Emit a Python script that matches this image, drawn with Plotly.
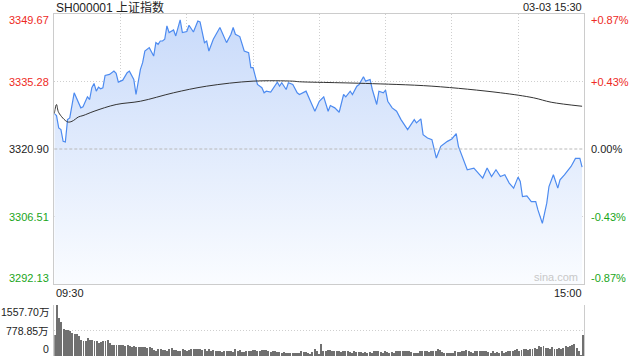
import plotly.graph_objects as go

# ---------------- data ----------------
title_text = "SH000001 上证指数"
stamp_text = "03-03 15:30"
prev_close = 3320.90
price_ticks = [3349.67, 3335.28, 3320.90, 3306.51, 3292.13]
pct_labels = ["+0.87%", "+0.43%", "0.00%", "-0.43%", "-0.87%"]
time_labels = ["09:30", "15:00"]
vol_ticks = [1557.70, 778.85, 0]
vol_labels = ["1557.70万", "778.85万", "0"]

minute_idx = [0, 1, 2, 3, 4, 5, 6, 7, 9, 10, 12, 13, 15, 16, 17, 18, 19, 20, 21, 22,
              23, 25, 27, 28, 29, 31, 33, 34, 36, 37, 39, 40, 41, 43, 45, 46, 47, 48, 49, 50,
              51, 52, 54, 55, 57, 58, 60, 61, 63, 65, 66, 68, 69, 70, 72, 75, 76, 77, 78, 80,
              81, 82, 84, 86, 88, 89, 90, 92, 94, 95, 96, 98, 99, 101, 102, 103, 105, 106, 108, 110,
              111, 114, 116, 118, 120, 122, 124, 125, 127, 129, 131, 132, 134, 135, 137, 138, 140, 141, 143, 144,
              146, 147, 149, 150, 151, 153, 155, 157, 160, 163, 164, 166, 167, 169, 171, 173, 175, 178, 180, 182,
              183, 185, 187, 190, 192, 194, 196, 198, 200, 202, 204, 206, 208, 210, 211, 212, 214, 216, 218, 219,
              221, 223, 224, 226, 228, 229, 231, 234, 236, 238, 239]
price = [3328.45, 3328.02, 3325.39, 3325.03, 3322.53, 3322.40, 3327.17, 3327.53, 3332.88, 3331.81,
         3329.67, 3329.88, 3332.02, 3331.45, 3333.95, 3334.87, 3333.22, 3334.08, 3333.73, 3333.95,
         3336.58, 3336.79, 3337.50, 3337.01, 3335.15, 3335.57, 3337.16, 3337.50, 3335.72, 3332.51,
         3337.86, 3339.30, 3341.78, 3342.50, 3340.71, 3343.57, 3343.21, 3343.92, 3343.92, 3344.28,
         3347.12, 3345.71, 3346.27, 3344.99, 3348.41, 3345.71, 3345.93, 3347.27, 3345.84, 3348.19,
         3347.98, 3343.57, 3343.92, 3341.78, 3344.28, 3346.78, 3345.71, 3344.99, 3343.57, 3345.35,
         3346.78, 3345.35, 3344.86, 3341.78, 3341.43, 3338.23, 3338.23, 3334.65, 3333.95, 3332.88,
         3333.22, 3333.01, 3333.73, 3335.15, 3334.29, 3335.02, 3333.58, 3335.02, 3334.65, 3332.88,
         3332.51, 3333.22, 3331.08, 3328.94, 3331.08, 3332.02, 3328.94, 3330.16, 3329.67, 3328.73,
         3332.51, 3332.02, 3333.22, 3332.51, 3334.29, 3334.65, 3336.30, 3335.36, 3335.72, 3333.58,
         3330.38, 3333.22, 3332.88, 3333.43, 3331.08, 3329.67, 3328.94, 3327.17, 3325.03, 3327.17,
         3326.46, 3327.32, 3323.96, 3323.25, 3322.89, 3318.97, 3321.46, 3322.53, 3323.04, 3324.17,
         3321.46, 3318.97, 3316.47, 3316.84, 3315.77, 3314.70, 3316.84, 3315.04, 3316.47, 3315.04,
         3315.40, 3313.63, 3312.56, 3314.91, 3313.97, 3310.76, 3310.91, 3309.69, 3309.69, 3307.92,
         3305.07, 3309.35, 3312.90, 3315.40, 3312.56, 3314.33, 3315.40, 3317.18, 3318.89, 3318.89,
         3317.05]

avg_idx = [0, 1, 2, 6, 8, 11, 13, 18, 28, 39, 54, 69, 90, 108, 111, 129, 141, 171, 202, 217, 225, 239]
avg_price = [3328.45, 3330.38, 3328.66, 3326.68, 3326.80, 3327.74, 3328.02, 3328.94, 3330.38, 3331.08,
             3332.88, 3334.29, 3335.36, 3335.36, 3335.23, 3335.02, 3334.87, 3334.29, 3332.88, 3331.81,
             3330.87, 3330.01]

volume = [650, 1558, 1150, 1030, 810, 800, 780, 750, 690, 680,
          660, 600, 498, 446, 467, 550, 498, 498, 467, 446,
          394, 436, 467, 457, 477, 394, 332, 322, 332, 322,
          332, 332, 311, 332, 311, 290, 301, 280, 270, 280,
          260, 270, 250, 260,
          249, 187, 166, 218, 218, 187, 187, 166, 218, 249,
          187, 187, 166, 166, 218, 187, 166, 187, 218, 208,
          208, 208, 218, 187, 208, 166, 218, 166, 187, 166,
          166, 166, 125, 145, 145, 166, 145, 125, 218, 166,
          187, 125, 135, 166, 145, 166, 187, 187, 145, 166,
          187, 187, 187, 145, 125, 145, 166, 125, 125, 104,
          125, 93, 83, 104, 104, 104, 104, 104, 145, 125,
          125, 104, 62, 125,
          228, 145, 42, 353, 166, 166, 187,
          187, 166, 145, 145, 145, 125, 166, 145, 166, 125,
          104, 145, 125, 114, 114, 104, 125, 104, 125, 104,
          166, 166, 145, 125, 104, 145, 125, 104, 125, 104,
          145, 166, 166, 166, 166, 166, 166, 125, 104, 104,
          104, 145, 145, 145, 145, 125, 145, 166, 166, 208,
          187, 125, 104, 104, 104, 104, 104, 145, 125, 125,
          166, 166, 187, 145, 125, 83, 145, 166, 145, 166,
          145, 145, 125, 104, 145, 104, 125, 104, 145, 104,
          125, 145, 166, 166, 187, 208, 145, 187, 208, 208,
          187, 208, 228, 249, 208, 291, 270, 291, 249, 249,
          228, 270, 228, 208, 249, 228, 249, 291, 270, 291,
          332, 353, 239, 166, 21, 654]

# ---------------- style ----------------
RED = "#ee2a24"
GREEN = "#1aa51a"
BLACK = "#222222"
FONT = "Liberation Sans, Arial, Noto Sans CJK SC, sans-serif"
GRID = "#cfcfcf"

x0p, x1p = 54.3 / 640, 584.3 / 640
main_dom = [1 - 284 / 360, 1 - 14 / 360]
vol_dom = [1 - 356 / 360, 1 - 305 / 360]

fig = go.Figure()

fig.add_trace(go.Scatter(
    x=minute_idx, y=price, mode="lines",
    line=dict(color="#4d8bf0", width=1.2),
    fill="tozeroy",
    fillgradient=dict(type="vertical",
                      colorscale=[[0, "rgba(250,252,255,1)"], [1, "rgba(200,218,250,1)"]],
                      start=price_ticks[-1], stop=price_ticks[0]),
    xaxis="x", yaxis="y", hoverinfo="skip", showlegend=False))

fig.add_trace(go.Scatter(
    x=avg_idx, y=avg_price, mode="lines", line=dict(color="#333333", width=1, shape="spline"),
    xaxis="x", yaxis="y", hoverinfo="skip", showlegend=False))

fig.add_trace(go.Bar(
    x=list(range(len(volume))), y=volume, width=0.45, marker=dict(color="#707070", line=dict(width=0)),
    xaxis="x2", yaxis="y2", hoverinfo="skip", showlegend=False))

# zero (previous close) line
fig.add_shape(type="line", xref="x domain", yref="y", x0=0, x1=1, y0=prev_close, y1=prev_close,
              line=dict(color="#b8b8b8", width=1, dash="3px,2px"))

annotations = []
colors_left = [RED, RED, BLACK, GREEN, GREEN]
shifts = [-6, 0, 0, 0, 6]
for v, c, s, pl in zip(price_ticks, colors_left, shifts, pct_labels):
    annotations.append(dict(x=x0p - 3 / 640, y=v, xref="paper", yref="y", text=f"{v:.2f}",
                            xanchor="right", yanchor="middle", yshift=s, showarrow=False,
                            font=dict(family=FONT, size=11, color=c)))
    annotations.append(dict(x=x1p + 5 / 640, y=v, xref="paper", yref="y", text=pl,
                            xanchor="left", yanchor="middle", yshift=s, showarrow=False,
                            font=dict(family=FONT, size=11, color=c)))

vshifts = [-7, 0, 7]
for v, t, s in zip(vol_ticks, vol_labels, vshifts):
    annotations.append(dict(x=x0p - 3 / 640, y=v, xref="paper", yref="y2", text=t,
                            xanchor="right", yanchor="middle", yshift=s, showarrow=False,
                            font=dict(family=FONT, size=10.5, color=BLACK)))

annotations.append(dict(x=x0p, y=1 - 7 / 360, xref="paper", yref="paper", text=title_text,
                        xanchor="left", yanchor="middle", showarrow=False,
                        font=dict(family=FONT, size=12, color=BLACK)))
annotations.append(dict(x=x1p, y=1 - 7 / 360, xref="paper", yref="paper", text=stamp_text,
                        xanchor="right", yanchor="middle", showarrow=False,
                        font=dict(family=FONT, size=11, color=BLACK)))
annotations.append(dict(x=x0p, y=1 - 293 / 360, xref="paper", yref="paper", text=time_labels[0],
                        xanchor="left", yanchor="middle", showarrow=False,
                        font=dict(family=FONT, size=11, color=BLACK)))
annotations.append(dict(x=x1p, y=1 - 293 / 360, xref="paper", yref="paper", text=time_labels[1],
                        xanchor="right", yanchor="middle", showarrow=False,
                        font=dict(family=FONT, size=11, color=BLACK)))
annotations.append(dict(x=x1p - 4 / 640, y=price_ticks[-1], xref="paper", yref="y", text="sina.com",
                        xanchor="right", yanchor="middle", yshift=7, showarrow=False,
                        font=dict(family=FONT, size=11, color="#c8c8c8")))

fig.update_layout(
    width=640, height=360, margin=dict(l=0, r=0, t=0, b=0),
    paper_bgcolor="white", plot_bgcolor="white",
    annotations=annotations,
    xaxis=dict(domain=[x0p, x1p], range=[0, 240], anchor="y",
               tickvals=[30, 60, 90, 120, 150, 180, 210], showticklabels=False, ticks="",
               showgrid=True, gridcolor=GRID, griddash="1px,2px", gridwidth=1,
               showline=True, linecolor="#cccccc", linewidth=1, mirror=True, zeroline=False),
    yaxis=dict(domain=main_dom, range=[price_ticks[-1], price_ticks[0]], anchor="x",
               tickvals=[price_ticks[1], price_ticks[3]], showticklabels=False, ticks="",
               showgrid=True, gridcolor=GRID, griddash="1px,2px", gridwidth=1,
               showline=True, linecolor="#cccccc", linewidth=1, mirror=True, zeroline=False),
    xaxis2=dict(domain=[x0p, x1p], range=[-0.4, 240.4], anchor="y2",
                showticklabels=False, ticks="", showgrid=False, showline=False, zeroline=False),
    yaxis2=dict(domain=vol_dom, range=[0, vol_ticks[0]], anchor="x2",
                tickvals=[vol_ticks[0], vol_ticks[1]], showticklabels=False, ticks="",
                showgrid=True, gridcolor=GRID, griddash="1px,2px", gridwidth=1,
                showline=True, linecolor="#cccccc", linewidth=1, mirror=True, zeroline=False),
    bargap=0,
)

fig.write_html("out.html")
